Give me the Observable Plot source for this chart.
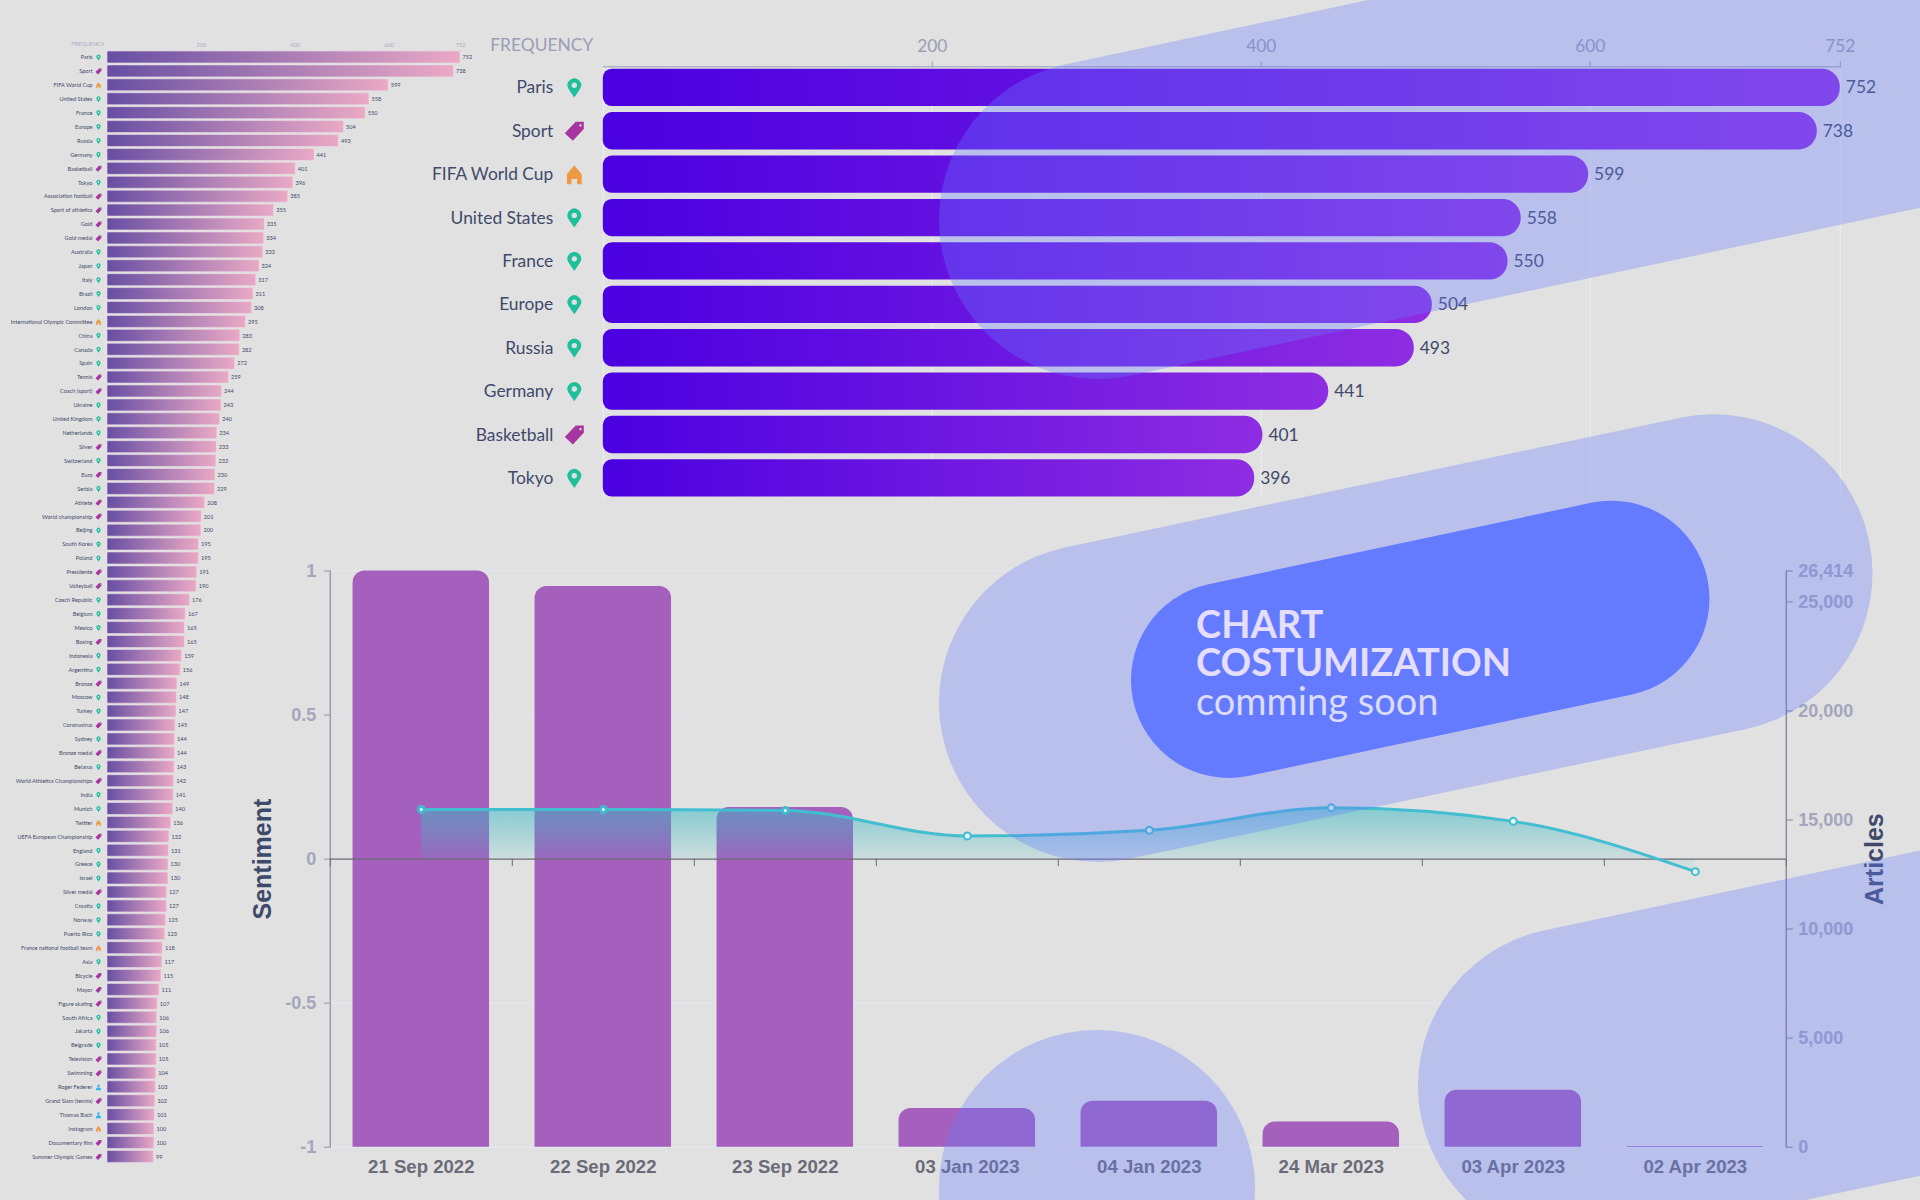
<!DOCTYPE html>
<html>
<head>
<meta charset="utf-8">
<script src="https://cdn.jsdelivr.net/npm/d3@7"></script>
<script src="https://cdn.jsdelivr.net/npm/@observablehq/plot@0.6"></script>
<style>
html,body{margin:0;padding:0;background:#e1e1e1;width:1920px;height:1200px;overflow:hidden}
#stage{position:relative;width:1920px;height:1200px;overflow:hidden}
#stage>svg{position:absolute;left:0;top:0}
.pill{position:absolute;background:#647bff;opacity:.33}
#promo{position:absolute;left:1196px;top:604px;font-family:Lato;color:#e6deff;font-size:38px;line-height:38px}
#promo b{font-weight:700;display:block}
#promo span{display:block;line-height:40px;color:#dcdcff}
</style>
</head>
<body>
<div id="stage"></div>
<script>
const topicNames = ["Paris","Sport","FIFA World Cup","United States","France","Europe","Russia","Germany","Basketball","Tokyo","Association football","Sport of athletics","Gold","Gold medal","Australia","Japan","Italy","Brazil","London","International Olympic Committee","China","Canada","Spain","Tennis","Coach (sport)","Ukraine","United Kingdom","Netherlands","Silver","Switzerland","Euro","Serbia","Athlete","World championship","Beijing","South Korea","Poland","Presidente","Volleyball","Czech Republic","Belgium","Mexico","Boxing","Indonesia","Argentina","Bronze","Moscow","Turkey","Coronavirus","Sydney","Bronze medal","Belarus","World Athletics Championships","India","Munich","Twitter","UEFA European Championship","England","Greece","Israel","Silver medal","Croatia","Norway","Puerto Rico","France national football team","Asia","Bicycle","Mayor","Figure skating","South Africa","Jakarta","Belgrade","Television","Swimming","Roger Federer","Grand Slam (tennis)","Thomas Bach","Instagram","Documentary film","Summer Olympic Games"];
const topicFrequency = [752,738,599,558,550,504,493,441,401,396,385,355,335,334,332,324,317,311,308,295,283,282,272,259,244,243,240,234,233,232,230,229,208,201,200,195,195,191,190,176,167,165,165,159,156,149,148,147,145,144,144,143,142,141,140,136,132,131,130,130,127,127,125,123,118,117,115,111,107,106,106,105,105,104,103,102,101,100,100,99];
const orgNames = new Set(["FIFA World Cup","International Olympic Committee","Twitter","France national football team","Instagram"]);
const personNames = new Set(["Roger Federer","Thomas Bach"]);
const tagNames = new Set(["Sport","Basketball","Association football","Sport of athletics","Gold","Gold medal","Tennis","Coach (sport)","Silver","Euro","Athlete","World championship","Presidente","Volleyball","Boxing","Bronze","Coronavirus","Bronze medal","World Athletics Championships","UEFA European Championship","Silver medal","Bicycle","Mayor","Figure skating","Television","Swimming","Grand Slam (tennis)","Documentary film","Summer Olympic Games"]);
const frequencyTicks = [200,400,600,752];

const dateLabels = ["21 Sep 2022","22 Sep 2022","23 Sep 2022","03 Jan 2023","04 Jan 2023","24 Mar 2023","03 Apr 2023","02 Apr 2023"];
const articleCounts = [26414,25700,15570,1775,2105,1150,2610,30];
const sentimentValues = [0.172,0.172,0.169,0.08,0.10,0.178,0.131,-0.0435];
const sentimentTicks = [-1,-0.5,0,0.5,1];
const articleTicks = [0,5000,10000,15000,20000,25000,26414];

const rows = topicNames.map((name,i)=>({name,freq:topicFrequency[i],kind:orgNames.has(name)?"o":personNames.has(name)?"h":tagNames.has(name)?"t":"p"}));
const top10 = rows.slice(0,10);
const daily = dateLabels.map((date,i)=>({date,articles:articleCounts[i],sentiment:sentimentValues[i]}));

const scaled = (sym)=>({draw(c,size){const s=Math.sqrt(size/Math.PI);const p={moveTo:(x,y)=>c.moveTo(x*s,y*s),lineTo:(x,y)=>c.lineTo(x*s,y*s),closePath:()=>c.closePath(),arc:(x,y,r,a,b,d)=>c.arc(x*s,y*s,r*s,a,b,d)};sym(p);}});
const pin = c=>{c.moveTo(0,1);c.arc(0,-.28,.72,Math.PI*.83,Math.PI*.17);c.closePath();c.moveTo(.28,-.28);c.arc(0,-.28,.28,0,-2*Math.PI,true);c.closePath();};
const tag = c=>{c.moveTo(1,-1);c.lineTo(1,-.25);c.lineTo(-.15,1);c.lineTo(-1,.2);c.lineTo(.15,-1);c.closePath();c.moveTo(.77,-.62);c.arc(.65,-.62,.12,0,-2*Math.PI,true);c.closePath();};
const home = c=>{c.moveTo(0,-1);c.lineTo(.78,-.05);c.lineTo(.78,1);c.lineTo(.3,1);c.lineTo(.3,.45);c.lineTo(-.3,.45);c.lineTo(-.3,1);c.lineTo(-.78,1);c.lineTo(-.78,-.05);c.closePath();};
const person = c=>{c.moveTo(.42,-.55);c.arc(0,-.55,.42,0,2*Math.PI);c.closePath();c.moveTo(-.85,1);c.lineTo(-.85,.5);c.lineTo(-.4,.05);c.lineTo(.4,.05);c.lineTo(.85,.5);c.lineTo(.85,1);c.closePath();};
const kindStyle = {p:{symbol:scaled(pin),fill:"#1fbf9b"},t:{symbol:scaled(tag),fill:"#a6359f"},o:{symbol:scaled(home),fill:"#ee9a45"},h:{symbol:scaled(person),fill:"#35b6ea"}};

function gradient(id,stops,vertical){
  return ()=>{const g=d3.create("svg:g");const lg=g.append("defs").append("linearGradient").attr("id",id).attr("x1",0).attr("x2",vertical?0:1).attr("y1",0).attr("y2",vertical?1:0);
    stops.forEach(([o,c,a])=>lg.append("stop").attr("offset",o).attr("stop-color",c).attr("stop-opacity",a??1));return g.node();};
}
function iconMarks(data,r,dx){
  return Object.keys(kindStyle).map(k=>Plot.dot(data.filter(d=>d.kind===k),{y:"name",frameAnchor:"left",dx,r,symbol:kindStyle[k].symbol,fill:kindStyle[k].fill}));
}
function freqChart(data,o){
  return Plot.plot({
    width:o.width,height:o.height,marginLeft:o.left,marginRight:o.width-o.right,marginTop:o.top,marginBottom:o.height-o.bottom,
    style:{background:"transparent",fontFamily:"Lato",overflow:"visible"},
    x:{domain:[0,752],axis:null},
    y:{domain:data.map(d=>d.name),paddingInner:.14,paddingOuter:o.po,round:false,axis:null},
    marks:[
      gradient(o.id,o.stops),
      Plot.gridX(o.gridTicks,{stroke:"#edeef6",strokeOpacity:1,strokeWidth:1}),
      Plot.frame({anchor:"top",stroke:o.axisColor,strokeWidth:o.axisW}),
      Plot.axisX(frequencyTicks,{anchor:"top",label:null,tickSize:o.tick,tickPadding:o.tickPad,stroke:o.axisColor,fill:o.tickColor,fontSize:o.tickFont,strokeWidth:o.axisW}),
      Plot.barX(data,{x:"freq",y:"name",fill:`url(#${o.id})`,rx1:o.r1,rx2:o.r2,stroke:o.barStroke,strokeWidth:o.barStroke?.6:0}),
      Plot.axisY({anchor:"left",label:null,tickSize:0,tickPadding:o.labelPad,fontSize:o.font,fill:"#3f4a6b"}),
      ...iconMarks(data,o.iconR,o.iconDx),
      Plot.text(data,{x:"freq",y:"name",text:d=>String(d.freq),dx:o.valDx,textAnchor:"start",fontSize:o.font,fill:"#3f4a6b"}),
      Plot.text(["FREQUENCY"],{frameAnchor:"top-left",dx:o.fDx,dy:o.fDy,textAnchor:"end",lineAnchor:"middle",fontSize:o.tickFont,fill:o.tickColor})
    ]
  });
}
const stage=document.getElementById("stage");
stage.append(freqChart(rows,{id:"gradSmall",stops:[[0,"#674ea3"],[1,"#eaa9c5"]],width:1920,height:1200,left:107,right:460,top:50.7,bottom:1162.7,po:.023,r1:1,r2:1,
  gridTicks:[],axisColor:"#c3c6d6",axisW:.5,tick:2,tickPad:2.5,tickColor:"#a8acc0",tickFont:5.6,barStroke:"#ecdde6",labelPad:15,font:5.6,iconR:3,iconDx:-9,valDx:2,fDx:-3,fDy:-7}));
stage.append(freqChart(top10,{id:"gradBig",stops:[[0,"#4a00e0"],[1,"#8e2de2"]],width:1920,height:1200,left:602.8,right:1839.8,top:66.3,bottom:499,po:.056,r1:9,r2:18,
  gridTicks:[0,200,400,600,752],axisColor:"#9a9eb8",axisW:1,tick:6,tickPad:8.5,tickColor:"#9a9eb3",tickFont:17.4,labelPad:50,font:17.4,iconR:9.5,iconDx:-29,valDx:5.5,fDx:-10,fDy:-21}));

const frame={width:1920,height:1200,marginLeft:329.8,marginRight:134.2,marginTop:570.5,marginBottom:53.3,
  style:{background:"transparent",fontFamily:"Liberation Sans",fontWeight:700,overflow:"visible"}};
const xScale={domain:dateLabels,type:"band",paddingInner:.25,paddingOuter:.125,round:false,axis:null};
stage.append(Plot.plot({...frame,x:xScale,y:{domain:[-1,1],axis:null},marks:[
  Plot.gridY([-1,-.5,.5,1],{stroke:"#e6e8f5",strokeOpacity:1})
]}));
stage.append(Plot.plot({...frame,x:xScale,y:{domain:[0,26414],axis:null},marks:[
  Plot.barY(daily,{x:"date",y:"articles",fill:"#a55fbc",rx1y2:0,rx2y2:0,rx1y1:12,rx2y1:12}),
  Plot.frame({anchor:"right",stroke:"#7f8299",strokeWidth:1.3}),
  Plot.axisY(articleTicks,{anchor:"right",label:null,tickSize:6,tickPadding:6,stroke:"#7f8299",fill:"#a3a6bd",fontSize:18,fontWeight:700,tickFormat:d=>d3.format(",")(d)}),
  Plot.axisX({anchor:"bottom",label:null,tickSize:0,tickPadding:13,fontSize:18.6,fontWeight:700,fill:"#6b6b78"}),
  Plot.text(["Articles"],{frameAnchor:"right",dx:88.5,rotate:-90,textAnchor:"middle",fontSize:25,fontWeight:700,fill:"#3f4a6b"})
]}));
stage.append(Plot.plot({...frame,x:xScale,y:{domain:[-1,1],axis:null},marks:[
  gradient("gradArea",[[0,"#38b9c4",.55],[.8,"#38b9c4",.12],[1,"#38b9c4",.05]],true),
  Plot.frame({anchor:"left",stroke:"#8f95ad",strokeWidth:1.3}),
  Plot.axisY(sentimentTicks,{anchor:"left",label:null,tickSize:6,tickPadding:8,stroke:"#8f95ad",fill:"#a3a6bd",fontSize:18,fontWeight:700,tickFormat:d=>String(d)}),
  Plot.areaY(daily,{x:"date",y1:0,y2:"sentiment",curve:"monotone-x",fill:"url(#gradArea)"}),
  Plot.ruleY([0],{stroke:"#666a72",strokeWidth:1.2}),
  Plot.ruleX(dateLabels,{x:d=>d,y1:0,y2:-.026,dx:-91,stroke:"#666a72"}),
  Plot.ruleX(dateLabels.slice(-1),{x:d=>d,y1:0,y2:-.026,dx:91,stroke:"#666a72"}),
  Plot.lineY(daily,{x:"date",y:"sentiment",curve:"monotone-x",stroke:"#42bed0",strokeWidth:3}),
  Plot.dot(daily.slice(0,3),{x:"date",y:"sentiment",r:3,fill:"#f2fbfb",stroke:"#3fbdd0",strokeWidth:3}),
  Plot.dot(daily.slice(3),{x:"date",y:"sentiment",r:3.5,fill:"#e6f6f7",stroke:"#3fbdd0",strokeWidth:2}),
  Plot.text(["Sentiment"],{frameAnchor:"left",dx:-67,rotate:-90,textAnchor:"middle",fontSize:25,fontWeight:700,fill:"#3f4a6b"})
]}));

// Decorative overlay shapes: centre x, centre y, radius, length, angle, opacity
const pills=[[1098.4,220.4,159,1500,-12,.33],[1098.4,702.9,159,629.4,-11.9,.33],[1097,1188,158,0,0,.33],[1577,1086,159,900,-12,.33],[1229.4,679.6,98,390.7,-12,1]];
pills.forEach(([x,y,r,l,a,o])=>{const d=document.createElement("div");d.className="pill";
  d.style.cssText=`left:${x-r}px;top:${y-r}px;width:${l+2*r}px;height:${2*r}px;border-radius:${r}px;transform-origin:${r}px ${r}px;transform:rotate(${a}deg);opacity:${o}`;stage.append(d);});
const promo=document.createElement("div");promo.id="promo";promo.innerHTML="<b>CHART</b><b>COSTUMIZATION</b><span>comming soon</span>";stage.append(promo);
</script>
</body>
</html>
